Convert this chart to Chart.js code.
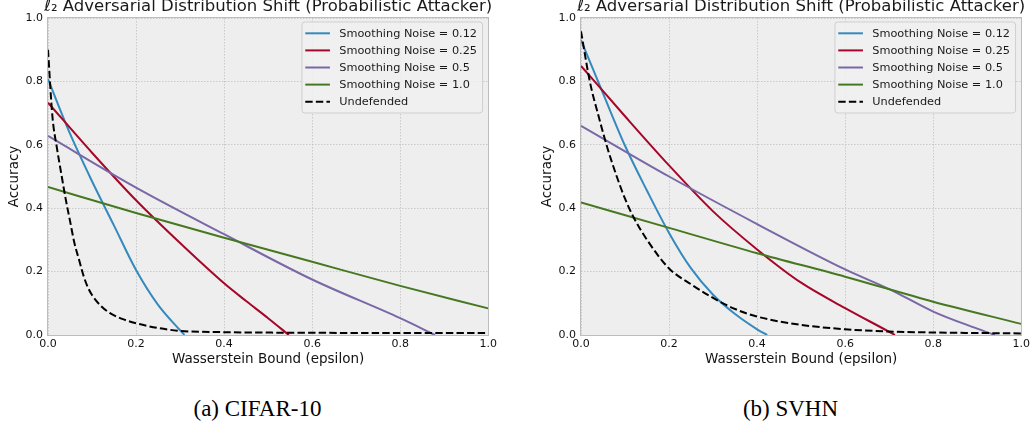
<!DOCTYPE html>
<html><head><meta charset="utf-8">
<script src="https://cdn.jsdelivr.net/npm/chart.js@4.4.1/dist/chart.umd.min.js"></script>
<style>
html,body{margin:0;padding:0;background:#fff;width:1034px;height:427px;overflow:hidden;}
.box{position:absolute;top:0;width:500px;height:380px;}
.cap{position:absolute;top:397px;width:300px;text-align:center;font-family:"Liberation Serif","Times New Roman",serif;font-size:23px;line-height:23px;color:#000;white-space:nowrap;}
</style></head><body>
<div class="box" style="left:0"><canvas id="c1"></canvas></div>
<div class="box" style="left:533px"><canvas id="c2"></canvas></div>
<div class="cap" style="left:107.5px">(a) CIFAR-10</div>
<div class="cap" style="left:640.5px">(b) SVHN</div>
<script>
// ---- labels ----
const chartTitle = "ℓ₂ Adversarial Distribution Shift (Probabilistic Attacker)";
const xAxisTitle = "Wasserstein Bound (epsilon)";
const yAxisTitle = "Accuracy";
const seriesLabels = ["Smoothing Noise = 0.12","Smoothing Noise = 0.25","Smoothing Noise = 0.5","Smoothing Noise = 1.0","Undefended"];
const seriesColors = ["#348ABD","#A60628","#7A68A6","#467821","#000000"];
const xTickValues = [0, 0.2, 0.4, 0.6, 0.8, 1.0];
const yTickValues = [0, 0.2, 0.4, 0.6, 0.8, 1.0];

// ---- CIFAR-10 ----
const cifar012X = [0, 0.05, 0.1, 0.15, 0.2, 0.25, 0.3, 0.31];
const cifar012Y = [0.807, 0.635, 0.485, 0.345, 0.205, 0.095, 0.015, 0.0];
const cifar025X = [0, 0.1, 0.2, 0.3, 0.4, 0.45, 0.5, 0.547];
const cifar025Y = [0.733, 0.575, 0.425, 0.29, 0.163, 0.107, 0.053, 0.0];
const cifar05X = [0, 0.2, 0.4, 0.6, 0.8, 0.879];
const cifar05Y = [0.628, 0.465, 0.318, 0.175, 0.053, 0.0];
const cifar10X = [0, 0.2, 0.4, 0.6, 0.8, 1.0];
const cifar10Y = [0.467, 0.385, 0.307, 0.231, 0.155, 0.084];
const cifarUndX = [0, 0.01, 0.02, 0.03, 0.04, 0.05, 0.06, 0.07, 0.08, 0.09, 0.1, 0.12, 0.14, 0.17, 0.2, 0.25, 0.3, 0.4, 0.6, 0.8, 1.0];
const cifarUndY = [0.90, 0.69, 0.592, 0.51, 0.43, 0.36, 0.29, 0.24, 0.19, 0.152, 0.126, 0.092, 0.07, 0.05, 0.037, 0.022, 0.013, 0.009, 0.007, 0.006, 0.006];

// ---- SVHN ----
const svhn012X = [0, 0.05, 0.1, 0.15, 0.2, 0.25, 0.3, 0.35, 0.4, 0.423];
const svhn012Y = [0.93, 0.762, 0.597, 0.455, 0.322, 0.21, 0.127, 0.066, 0.018, 0.0];
const svhn025X = [0, 0.1, 0.2, 0.3, 0.4, 0.5, 0.6, 0.7, 0.713];
const svhn025Y = [0.849, 0.69, 0.535, 0.39, 0.27, 0.165, 0.085, 0.01, 0.0];
const svhn05X = [0, 0.2, 0.4, 0.6, 0.7, 0.8, 0.9, 0.94];
const svhn05Y = [0.66, 0.50, 0.35, 0.207, 0.145, 0.074, 0.02, 0.0];
const svhn10X = [0, 0.2, 0.4, 0.6, 0.8, 1.0];
const svhn10Y = [0.418, 0.338, 0.258, 0.184, 0.105, 0.035];
const svhnUndX = [0, 0.02, 0.04, 0.06, 0.08, 0.1, 0.12, 0.15, 0.2, 0.25, 0.3, 0.35, 0.4, 0.5, 0.6, 0.7, 0.8, 1.0];
const svhnUndY = [0.958, 0.80, 0.69, 0.59, 0.505, 0.43, 0.37, 0.30, 0.21, 0.16, 0.117, 0.082, 0.058, 0.032, 0.018, 0.011, 0.008, 0.005];

const FONT = '"DejaVu Sans", "Liberation Sans", sans-serif';

function makeDatasets(xs, ys) {
  return xs.map((xArr, i) => ({
    label: seriesLabels[i],
    data: xArr.map((x, j) => ({x: x, y: ys[i][j]})),
    borderColor: seriesColors[i],
    backgroundColor: seriesColors[i],
    borderWidth: 2,
    borderDash: i === 4 ? [7.4, 3.2] : [],
    pointRadius: 0,
    fill: false,
    cubicInterpolationMode: 'monotone',
    order: 4 - i
  }));
}

const decor = {
  id: 'decor',
  beforeDraw(chart) {
    const {ctx, chartArea: a} = chart;
    ctx.save();
    ctx.fillStyle = '#eeeeee';
    ctx.fillRect(a.left, a.top, a.right - a.left, a.bottom - a.top);
    ctx.restore();
  },
  afterDatasetsDraw(chart) {
    const {ctx, chartArea: a} = chart;
    ctx.save();
    // frame
    ctx.strokeStyle = '#bcbcbc';
    ctx.lineWidth = 1;
    ctx.setLineDash([]);
    ctx.strokeRect(Math.round(a.left) - 0.5, Math.round(a.top) - 0.5,
                   Math.round(a.right - a.left) + 1, Math.round(a.bottom - a.top) + 1);
    // legend
    const bw = 180.6, bh = 91;
    const bx = a.right - 186.3, by = a.top + 4;
    ctx.beginPath();
    if (ctx.roundRect) ctx.roundRect(bx, by, bw, bh, 3); else ctx.rect(bx, by, bw, bh);
    ctx.fillStyle = 'rgba(240,240,240,0.85)';
    ctx.fill();
    ctx.strokeStyle = '#cfcfcf';
    ctx.stroke();
    ctx.font = '11.3px ' + FONT;
    ctx.textBaseline = 'middle';
    ctx.textAlign = 'left';
    chart.data.datasets.forEach((ds, i) => {
      const y = by + 11.3 + i * 17.1;
      ctx.beginPath();
      ctx.strokeStyle = ds.borderColor;
      ctx.lineWidth = 2;
      ctx.setLineDash(ds.borderDash || []);
      ctx.moveTo(bx + 3.3, y);
      ctx.lineTo(bx + 28, y);
      ctx.stroke();
      ctx.setLineDash([]);
      ctx.fillStyle = '#1a1a1a';
      ctx.fillText(ds.label, bx + 37.3, y + 0.5);
    });
    ctx.restore();
  },
  afterDraw(chart) {
    const {ctx, chartArea: a} = chart;
    ctx.save();
    ctx.font = '16.5px ' + FONT;
    ctx.fillStyle = '#1a1a1a';
    ctx.textAlign = 'center';
    ctx.textBaseline = 'alphabetic';
    ctx.fillText(chartTitle, (a.left + a.right) / 2, 11);
    ctx.restore();
  }
};

function axisOpts(isX, tickVals) {
  return {
    type: 'linear',
    min: 0, max: 1,
    afterBuildTicks(scale) { scale.ticks = tickVals.map(v => ({value: v})); },
    afterFit(scale) { if (isX) scale.height = 45; else scale.width = 48; },
    grid: { color: '#c0c0c0', lineWidth: 0.8, drawTicks: false },
    border: { display: false, dash: [1.5, 1.5] },
    ticks: {
      autoSkip: false, maxRotation: 0,
      padding: isX ? 3 : 5,
      color: '#111',
      font: { family: FONT, size: 11 },
      callback: v => Number(v).toFixed(1)
    },
    title: {
      display: true,
      text: isX ? xAxisTitle : yAxisTitle,
      color: '#111',
      font: { family: FONT, size: 13.5 },
      padding: isX ? { top: 0, bottom: 12 } : { top: 6, bottom: 0 }
    }
  };
}

function makeChart(id, xs, ys) {
  return new Chart(document.getElementById(id), {
    type: 'line',
    data: { datasets: makeDatasets(xs, ys) },
    options: {
      responsive: true,
      maintainAspectRatio: false,
      animation: false,
      devicePixelRatio: 1,
      layout: { padding: { left: 0, right: 11, top: 18, bottom: 0 } },
      plugins: { legend: { display: false }, title: { display: false }, tooltip: { enabled: false } },
      scales: { x: axisOpts(true, xTickValues), y: axisOpts(false, yTickValues) }
    },
    plugins: [decor]
  });
}

makeChart('c1',
  [cifar012X, cifar025X, cifar05X, cifar10X, cifarUndX],
  [cifar012Y, cifar025Y, cifar05Y, cifar10Y, cifarUndY]);
makeChart('c2',
  [svhn012X, svhn025X, svhn05X, svhn10X, svhnUndX],
  [svhn012Y, svhn025Y, svhn05Y, svhn10Y, svhnUndY]);
</script>
</body></html>
